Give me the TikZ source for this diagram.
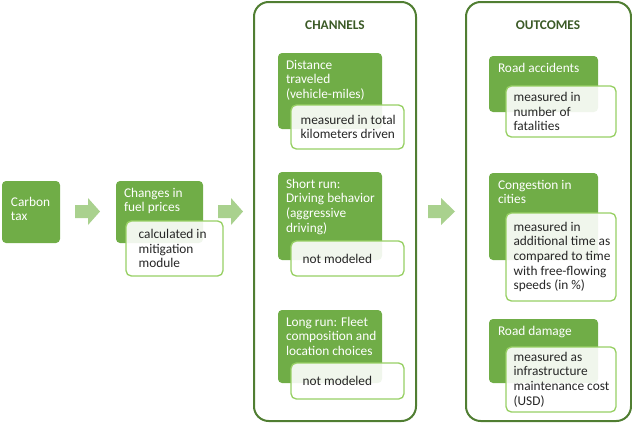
\documentclass[tikz,border=0pt]{standalone}
\usepackage{fontspec}
\setmainfont{Carlito}
\usetikzlibrary{fit,calc}
\definecolor{gfill}{HTML}{70AD47}
\definecolor{frameg}{HTML}{507E32}
\definecolor{subg}{HTML}{98D065}
\definecolor{arrg}{HTML}{A9D18E}
\definecolor{headg}{HTML}{3B5A26}
\definecolor{txt}{HTML}{262626}
\tikzset{
  gbox/.style={fill=gfill, draw=none, rounded corners=3pt, inner sep=0pt},
  wbox/.style={fill=white, fill opacity=0.9, draw=subg, line width=1pt, rounded corners=4pt, inner sep=0pt},
  frame/.style={draw=frameg, line width=1.5pt, rounded corners=11pt, inner sep=0pt},
  gtext/.style={text=white, font=\fontsize{10}{11}\selectfont, align=left, anchor=north west, inner sep=0pt},
  wtext/.style={text=txt, font=\fontsize{10}{11}\selectfont, align=left, anchor=west, inner sep=0pt},
  head/.style={text=headg, font=\fontsize{10}{11}\selectfont\bfseries, inner sep=0pt},
  blockarrow/.style={fill=arrg, draw=none}
}
\newcommand{\blockarr}[2]{% left x, right x
  \fill[blockarrow] (#1,205) -- ({#1+13},205) -- ({#1+13},198) -- (#2,211.5) -- ({#1+13},225) -- ({#1+13},218) -- (#1,218) -- cycle;}
\begin{document}
\begin{tikzpicture}[x=0.75pt,y=-0.75pt]
\useasboundingbox (0,0) rectangle (632,425);
% left chain
\node[gbox, fit={(2,181)(60,243)}] (ctax) {};
\node[gtext] (ctaxt) at ([shift={(9,16)}]ctax.north west) {Carbon\\tax};
\blockarr{75}{100}
\node[gbox, fit={(116,181)(203,243)}] (fuel) {};
\node[gtext] (fuelt) at ([shift={(8,7)}]fuel.north west) {Changes in\\fuel prices};
\node[wbox, fit={(126,221)(223,276)}] (calc) {};
\node[wtext] (calct) at ([xshift=13*0.75pt]calc.west) {calculated in\\mitigation\\module};
\blockarr{218}{243}
% channels
\node[frame, fit={(254,2)(416,421)}] (chan) {};
\node[head] (chanh) at (335,25) {CHANNELS};
\node[gbox, fit={(278,53)(382,129)}] (dist) {};
\node[gtext] (distt) at ([shift={(8,7)}]dist.north west) {Distance\\traveled\\(vehicle-miles)};
\node[wbox, fit={(291,105)(404,149)}] (dists) {};
\node[wtext] (distst) at ([xshift=10*0.75pt]dists.west) {measured in total\\kilometers driven};
\node[gbox, fit={(278,172)(382,260)}] (srun) {};
\node[gtext] (srunt) at ([shift={(8,7)}]srun.north west) {Short run:\\Driving behavior\\(aggressive\\driving)};
\node[wbox, fit={(291,241)(404,276)}] (sruns) {};
\node[wtext] (srunst) at ([xshift=12*0.75pt]sruns.west) {not modeled};
\node[gbox, fit={(278,310)(382,383)}] (lrun) {};
\node[gtext] (lrunt) at ([shift={(8,7)}]lrun.north west) {Long run: Fleet\\composition and\\location choices};
\node[wbox, fit={(291,363)(404,399)}] (lruns) {};
\node[wtext] (lrunst) at ([xshift=12*0.75pt]lruns.west) {not modeled};
\blockarr{428}{455}
% outcomes
\node[frame, fit={(466,2)(631,421)}] (outc) {};
\node[head] (outch) at (548,25) {OUTCOMES};
\node[gbox, fit={(489,56)(598,112)}] (acc) {};
\node[gtext] (acct) at ([shift={(9,7)}]acc.north west) {Road accidents};
\node[wbox, fit={(506,86)(616,137)}] (accs) {};
\node[wtext] (accst) at ([xshift=8*0.75pt]accs.west) {measured in\\number of\\fatalities};
\node[gbox, fit={(489,173)(598,260)}] (cong) {};
\node[gtext] (congt) at ([shift={(9,7)}]cong.north west) {Congestion in\\cities};
\node[wbox, fit={(506,213)(616,301)}] (congs) {};
\node[wtext] (congst) at ([xshift=8*0.75pt]congs.west) {measured in\\additional time as\\compared to time\\with free-flowing\\speeds (in \%)};
\node[gbox, fit={(489,319)(598,383)}] (dam) {};
\node[gtext] (damt) at ([shift={(9,7)}]dam.north west) {Road damage};
\node[wbox, fit={(506,347)(616,412)}] (dams) {};
\node[wtext] (damst) at ([xshift=8*0.75pt]dams.west) {measured as\\infrastructure\\maintenance cost\\(USD)};
\end{tikzpicture}
\end{document}
